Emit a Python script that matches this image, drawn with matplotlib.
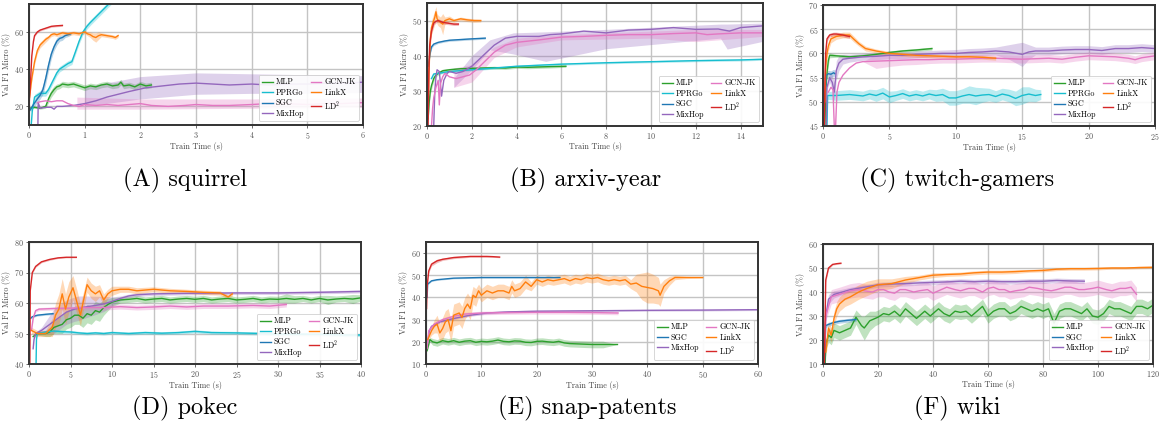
import matplotlib
matplotlib.use("Agg")
import matplotlib.pyplot as plt
import numpy as np

plt.rcParams['font.family'] = 'serif'
plt.rcParams['font.serif'] = ['cmr10', 'DejaVu Serif']
plt.rcParams['mathtext.fontset'] = 'cm'
plt.rcParams['axes.formatter.use_mathtext'] = True

# colours for each model
C_MLP, C_PPR, C_SGC, C_MIX = '#2ca02c', '#17becf', '#1f77b4', '#9467bd'
C_GCN, C_LNK, C_LD2 = '#e377c2', '#ff7f0e', '#d62728'

# ---- (A) squirrel: (time, mean, half-width of band) ----
sq_mlp = [(0.0,19,0.5),(0.1,19.5,0.5),(0.2,19,0.5),(0.3,20,1),(0.35,24,2),(0.4,27,2),(0.45,29,2),
          (0.5,30.5,1.5),(0.55,31,1.5),(0.6,32,1.5),(0.7,31.5,1.5),(0.8,32,1.5),(0.9,31,1.5),(1.0,30,1.5),
          (1.1,31,1.5),(1.2,30.5,1.5),(1.3,31.5,1.5),(1.4,32,1.5),(1.5,31,1.5),(1.6,31.5,1.5),(1.65,33,1.5),
          (1.7,31,1.5),(1.8,31.5,1.5),(1.9,30.5,1.5),(2.0,32,1.5),(2.1,31,1.5),(2.2,31.5,1.5)]
sq_pprgo = [(0.04,10,0),(0.06,18,1),(0.1,25,1.5),(0.15,26,1.5),(0.2,27,1.5),(0.25,27,1.5),(0.3,27,1.5),
            (0.35,29,1.5),(0.4,32,1.5),(0.45,35,1.5),(0.5,38,1.5),(0.55,40,1.5),(0.6,41,1.5),(0.7,43,1.5),
            (0.77,44,1.5),(0.83,49,1.5),(0.9,55,1.5),(0.97,60,1.5),(1.04,63,1.5),(1.1,65,1.5),(1.2,68,1.5),
            (1.3,71,1.5),(1.4,74,1.5),(1.5,77,1.5)]
sq_sgc = [(0.02,18,1),(0.08,21,1.5),(0.15,24,2),(0.2,26,2),(0.25,29,2.5),(0.3,35,3),(0.35,42,3),(0.4,48,2.5),
          (0.45,52,2),(0.5,55,2),(0.55,56.5,1.5),(0.6,57,1.5),(0.65,58,1),(0.7,58.5,1),(0.75,59,0.8)]
sq_mixhop = [(0.16,10,0),(0.165,22,0),(0.2,19,0),(0.3,19.5,0),(0.4,19.5,0),(0.45,18.5,0),(0.5,20,0),
             (0.6,20,0),(0.8,20.5,0),(1.0,21.5,0),(1.2,23,0),(1.4,25,0),(1.6,26.5,0),(1.8,28,0),(2.1,30,0),
             (2.4,31,0),(2.7,32,0),(3.0,32.5,0),(3.3,32,0),(3.6,31.5,0),(4.0,32,0),(4.3,31.5,0),(4.7,32,0),
             (5.0,32,0),(5.4,32.5,0),(5.7,32.5,0),(6.0,33,0)]
sq_mixhop_band = [(1.0,20,30.5),(2.0,24,36),(3.0,26.5,38),(4.0,27,37.5),(5.0,27,37),(6.0,27.5,36.5)]
sq_gcnjk = [(0.15,22,0),(0.2,22.5,0),(0.3,23,0),(0.4,22.5,0),(0.5,23,0),(0.6,23,0),(0.7,21.5,0),(0.8,20.5,0),
            (0.9,20,0),(1.0,21,0),(1.2,20.5,0),(1.4,21,0),(1.6,20.5,0),(1.8,21,0),(2.0,21.5,0),(2.2,20.5,0),
            (2.5,20,0),(2.8,20.5,0),(3.0,21,0),(3.3,20.5,0),(3.6,20.5,0),(4.0,21,0),(4.3,21.5,0),(4.6,21.5,0),
            (5.0,21,0),(5.3,21.5,0),(5.6,21.5,0),(6.0,22,0)]
sq_gcnjk_band = [(0.86,18.5,25),(2.0,18.5,24),(4.0,19,24),(6.0,19.5,24.5)]
sq_linkx = [(0.01,25,0),(0.03,30,1),(0.05,35,1.5),(0.1,44,1.5),(0.15,50,1.5),(0.2,53,1.5),(0.25,54.5,1.5),
            (0.3,56,1.5),(0.35,57,1),(0.4,58.5,1),(0.45,59,1),(0.5,58.5,1),(0.6,59.5,1),(0.7,59,1),(0.8,59.5,1),
            (0.9,59,1),(1.0,60,1),(1.05,59,1),(1.1,58.5,1.5),(1.15,57.5,2),(1.2,57,2.5),(1.25,58,2),(1.3,58.5,1),
            (1.4,58,1),(1.5,57.5,1),(1.55,57,1),(1.6,58,1)]
sq_ld2 = [(0.0,20,0),(0.03,35,0),(0.05,47,0.5),(0.08,55,0.5),(0.1,58,0.5),(0.15,60,0.5),(0.2,61,0.5),
          (0.3,62,0.5),(0.4,63,0.5),(0.5,63.3,0.5),(0.6,63.5,0.5)]

# ---- (B) arxiv-year ----
ax_mlp = [(0.05,22,0),(0.1,27,1),(0.15,30,1),(0.2,31.5,1),(0.3,33.5,0.8),(0.4,34.5,0.5),(0.5,35,0.5),
          (0.7,35.7,0.5),(1.0,36,0.4),(1.5,36.3,0.4),(2.0,36.4,0.4),(2.5,36.5,0.4),(3.0,36.6,0.4),(3.5,36.5,0.4),
          (4.0,36.8,0.4),(4.5,36.7,0.4),(5.0,36.8,0.4),(5.5,36.9,0.4),(6.2,37,0.3)]
ax_pprgo = [(0.2,33.5,0.3),(0.3,34.8,0.3),(0.5,35,0.3),(1.0,35.5,0.3),(2.0,36,0.3),(3.0,36.5,0.3),(4.0,37,0.3),
            (5.0,37.3,0.3),(6.0,37.6,0.3),(8.0,38,0.3),(10.0,38.3,0.3),(12.0,38.6,0.3),(14.0,38.8,0.3),(15.0,39,0.3)]
ax_sgc = [(0.05,37,0.5),(0.1,39,0.5),(0.15,41,0.5),(0.2,42.5,0.5),(0.3,43.3,0.4),(0.5,43.8,0.3),(0.8,44.2,0.3),
          (1.0,44.4,0.3),(1.5,44.6,0.3),(2.0,44.8,0.3),(2.6,45,0.3)]
ax_mixhop = [(0.3,20,0),(0.35,30,0),(0.4,34,0),(0.45,36,0),(0.55,35.5,0),(0.65,28.5,0),(0.75,33,0),(0.9,35,0),
             (1.0,35.5,0),(1.3,35,0),(1.6,35.5,0),(2.0,37,0),(2.5,40,0),(3.0,43,0),(3.5,45,0),(4.0,45.5,0),
             (5.0,45.5,0),(5.5,46,0),(6.0,46.2,0),(7.0,47,0),(8.0,46.5,0),(9.0,47.3,0),(10.0,47.5,0),(11.0,48,0),
             (12.0,47.5,0),(13.0,47.6,0),(13.5,47,0),(14.0,48,0),(15.0,48.5,0)]
ax_mixhop_band = [(1.2,31,33.6),(2.0,36,40),(2.8,41.7,44.5),(3.85,40.5,46.5),(5.3,38.4,46.8),(8.0,42,47.5),
                  (13.1,45,49),(13.4,41.9,49),(15.0,44.1,49.3)]
ax_gcnjk = [(0.2,20,0),(0.25,25,0),(0.3,28,0),(0.4,31,0),(0.5,33,0),(0.55,26,0),(0.6,32,0),(0.7,34,0),(0.8,35,0),
            (1.0,34,0),(1.3,33.5,0),(1.6,34,0),(1.9,34.5,0),(2.2,36,0),(2.6,38.5,0),(3.0,41,0),(3.5,43,0),
            (4.0,43.8,0),(5.0,44.5,0),(6.0,45.3,0),(7.0,45.5,0),(8.0,45.8,0),(9.0,46,0),(10.0,46,0),(11.0,46.3,0),
            (12.0,46.5,0),(12.5,46,0),(13.0,46.2,0),(14.0,46.5,0),(15.0,46.5,0)]
ax_gcnjk_band = [(1.2,31,36.5),(2.0,32.5,37.5),(3.0,39.5,42.5),(4.0,42.5,45),(6.0,44.5,46),(10.0,45,47),
                 (12.0,44,47.5),(15.0,45.5,47.5)]
ax_linkx = [(0.05,25,1),(0.1,38,2),(0.15,45,2),(0.2,48,2),(0.3,50,2),(0.35,51,2),(0.4,52.5,1.5),(0.45,50.5,1.5),
            (0.5,50,1.5),(0.6,49.5,1.5),(0.7,49,3),(0.8,50,1),(1.0,50.5,0.8),(1.2,50,0.5),(1.5,50.5,0.5),
            (1.8,50.2,0.5),(2.1,50,0.5),(2.4,50,0.4)]
ax_ld2 = [(0.05,20,0),(0.08,35,1),(0.12,43,1),(0.2,47,0.8),(0.3,49.3,0.5),(0.4,49.8,0.5),(0.5,50,0.5),
          (0.7,49.5,0.5),(1.0,49.2,0.4),(1.2,49,0.4),(1.4,49,0.4)]

# ---- (C) twitch-gamers ----
tw_mlp = [(0.15,45,0),(0.2,52,1),(0.3,56,1),(0.4,58.5,1),(0.5,59.6,0.5),(1.0,59.5,0.3),(2.0,59.3,0.3),
          (3.0,59.5,0.3),(4.0,59.8,0.3),(5.0,60.2,0.3),(6.0,60.5,0.3),(7.0,60.7,0.3),(8.2,61,0.3)]
tw_pprgo = [(0.3,45,0),(0.35,51.3,0.8),(1,51.3,1),(2,51.5,1),(3,51.2,1),(3.5,51.6,1),(4,51.3,1.2),(4.5,51.8,1.2),
            (5,51,1.2),(5.5,51.3,1),(6,51.7,1),(6.5,51.2,1),(7,51.5,1),(7.5,51.2,1),(8,51.6,1),(8.5,51.3,1.2),
            (9,51.5,1.3),(9.5,50.8,1.5),(10,50.8,1.5),(10.5,51.2,1.5),(11,51.5,1.8),(11.5,51.2,1.8),(12,51.4,1.5),
            (12.5,51.5,1.3),(13,51.1,1.2),(13.5,51.6,1.2),(14,51.3,1.3),(14.5,50.7,1.5),(15,51.3,1.8),
            (15.5,51.6,1.5),(16,51.3,1.3),(16.4,51.5,1)]
tw_sgc = [(0.15,50,0.5),(0.25,55.5,0.7),(0.4,55.8,0.7),(0.6,55.7,0.7),(0.8,56,0.7),(0.9,55.8,0.7)]
tw_mixhop = [(0.25,45,0),(0.3,53,0.5),(0.5,55,1),(0.7,54,1.5),(0.85,52,2),(1.0,56.5,2),(1.2,58,1.5),(1.5,58.8,1),
             (2,59,0.8),(3,59.3,0.7),(4,59.4,0.7),(5,59.6,0.7),(6,59.6,0.7),(7,59.8,0.7),(8,59.9,0.7),(9,60,0.7),
             (10,60,0.8),(11,60.2,0.8),(12,60.3,0.8),(13,60.5,0.8),(14,60.3,1.5),(15,59.8,2.5),(15.5,60.3,1.5),
             (16,60.5,0.8),(17,60.5,0.8),(18,60.7,0.8),(19,60.8,0.8),(20,60.8,0.8),(21,60.6,0.8),(22,61,0.8),
             (23,61,0.8),(24,61.2,0.8),(25,61,0.8)]
tw_gcnjk = [(0.4,52,0),(0.6,53,0),(0.75,52.5,0),(0.85,45,0),(0.95,45,0),(1.05,52,0),(1.2,54,0),(1.5,55.5,0),
            (2.0,57,0),(2.5,58,0),(3,58.3,0),(4,58.4,1.5),(5,58.5,1.2),(6,58.6,1),(7,58.7,1),(8,58.7,0.8),
            (9,58.8,0.8),(10,58.8,0.8),(11,58.9,0.8),(12,59,0.8),(13,59,0.8),(14,58.9,0.8),(15,58.8,0.8),
            (16,58.9,0.8),(17,59,0.8),(18,58.8,0.8),(19,59.2,0.8),(20,59.5,0.8),(21,59.4,0.8),(22,59.3,0.8),
            (23,59,0.8),(23.5,58.7,0.8),(24,59.1,0.8),(25,59.5,0.8)]
tw_linkx = [(0.15,50,0),(0.2,57,1),(0.3,60,1),(0.4,61.5,1),(0.6,63,0.8),(1.0,63.5,0.6),(1.5,63.8,0.6),
            (2.0,63.8,0.6),(2.3,63,0.6),(2.7,62,0.5),(3.2,61,0.5),(4.0,60.5,0.4),(5.0,60,0.4),(6.0,59.8,0.4),
            (7,59.6,0.4),(8,59.5,0.4),(9,59.4,0.4),(10,59.3,0.4),(11,59.3,0.4),(12,59.2,0.4),(13,59,0.4)]
tw_ld2 = [(0.1,45,0),(0.15,55,0),(0.2,60,0.5),(0.3,63,0.5),(0.5,63.8,0.4),(0.8,64,0.4),(1.0,64,0.4),
          (1.5,63.8,0.4),(1.8,63.6,0.4),(2.0,63.5,0.4)]

# ---- (D) pokec ----
pk_mlp = [(0.5,49,0.5),(1,50,0.5),(2,50,1),(2.5,50.5,1.5),(3,52,2),(3.5,52.5,2.5),(4,53,3),(4.5,54.5,3),(5,55,3),
          (5.5,56,3),(6,56,3),(6.5,55,3),(7,56.5,3),(7.5,56,3),(8,57.5,3),(8.5,57,3),(9,58.5,2.5),(9.5,59.5,2),
          (10,60.3,1.5),(11,61,1),(12,61.2,1),(13,61.5,1),(14,61,1),(15,61.3,1),(16,61.5,1),(17,61,1),
          (18,61.3,1),(19,61.5,1),(20,61.2,1),(21,61.5,1),(22,61,1),(23,61.3,1),(24,61.5,1),(25,61,1),
          (26,61.2,1),(27,61.5,1),(28,61,1),(29,61.3,1),(30,61.2,1),(31,61.5,1.5),(32,61.2,1.2),(33,61.5,1),
          (34,61,1),(35,61.5,1),(36,61,1.5),(37,61.3,1),(38,61.5,1),(39,61.3,1.5),(40,61.7,1)]
pk_pprgo = [(0.85,40,0),(0.9,48,0),(1.0,50,0.5),(2,50.5,0.5),(3,50.8,0.5),(4,50.6,0.5),(5,50.5,0.5),(6,50.2,0.5),
            (7,50,0.5),(8,50.2,0.5),(9,50,0.5),(10,50.3,0.5),(12,50,0.5),(14,50.3,0.5),(16,50.1,0.5),
            (18,50.3,0.5),(20,50.7,0.5),(22,50.3,0.5),(25,50.2,0.5),(28,50,0.5),(30,49.8,0.5),(33,49.8,0.5),
            (36,49.7,0.5),(38,49.5,0.5),(40,49.5,0.5)]
pk_sgc = [(0.2,55,0.3),(0.4,55.5,0.3),(1,56,0.3),(2,56.3,0.3),(2.9,56.5,0.3)]
pk_mixhop = [(0.5,45,0),(0.6,48,0.5),(0.8,50,0.5),(1.5,51,1),(2,52,2),(2.5,53,3),(3,54,4),(3.5,55,4),(4,56,4),
             (4.5,57,4),(5,57.5,4),(5.5,58,4),(6,58.3,4),(7,58.8,3.5),(8,59.2,3),(9,59.7,2.5),(10,60.5,1.5),
             (11,61.5,0.8),(12,62.3,0.6),(13,62.7,0.6),(15,63,0.5),(20,63.2,0.5),(25,63.3,0.5),(30,63.3,0.5),
             (35,63.5,0.5),(40,63.8,0.5)]
pk_gcnjk = [(0.3,51,0),(0.5,55,0.5),(0.8,57.5,0.5),(1.2,58,0.5),(3,58.2,0.5),(5,58.3,0.5),(7,58.5,0.8),
            (9,58.5,0.8),(11,58.8,0.8),(13,58.5,0.8),(15,58.7,0.8),(17,59,0.8),(19,58.7,0.8),(21,59,0.8),
            (24,59,0.8),(27,59.2,0.8),(29,59,0.8),(31,59.5,0.8)]
pk_linkx = [(0.3,51,1),(1,50,1),(2,50,1),(2.8,52,3),(3.2,56,4),(3.6,58,5),(4,63,5),(4.4,58,5),(4.8,62,5),
            (5.3,65,4),(5.8,60,4),(6.2,56,3.5),(6.5,60,3),(7,66,2.5),(7.5,64,2.5),(8,63,2.5),(8.5,64,2),(9,61,2),
            (9.5,63,1.5),(10,64,1.5),(11,64.5,1),(12,64.5,1),(13,64,1),(15,64.5,0.8),(17,64,0.8),(19,63.8,0.7),
            (21,63.5,0.7),(23,63.3,0.7),(24,62,0.7),(24.5,63,0.7)]
pk_ld2 = [(0.1,40,0),(0.15,64,0),(0.4,70,0.3),(0.8,72,0.3),(1.5,73.5,0.3),(2.5,74.3,0.3),(3.5,74.8,0.2),
          (4.5,75,0.2),(5.7,75,0.2)]

# ---- (E) snap-patents ----
sp_mlp = [(0.2,16,0),(0.7,21,1),(1.2,20,1.5),(2,19.5,1.5),(3,20.5,1.5),(4,20,1.5),(5,20.5,1.5),(6,19.8,1.5),
          (7,20.3,1.5),(8,20.5,1.5),(9,19.8,1.5),(10,20.2,1.5),(11,20,1.5),(12,20.3,1.5),(13,20.8,1.5),
          (14,20.2,1.5),(15,20,1.5),(16,20.4,1.5),(17,20.3,1.5),(18,19.8,1.5),(19,19.7,1.5),(20,20.2,1.5),
          (21,20.3,1.5),(22,20,1.5),(23,19.8,1.5),(24,20.2,1.5),(25,19.5,1.5),(26,19.2,1.5),(28,19,1.5),
          (30,18.8,1.5),(32,18.8,1.5),(34.6,18.8,0)]
sp_sgc = [(0.2,40,0),(0.3,46,0.3),(1,47.5,0.3),(2,48,0.3),(5,48.7,0.3),(10,49,0.3),(15,49,0.3),(20,49,0.3),
          (24.2,49,0.3)]
sp_mixhop = [(0.3,20,0.5),(0.6,25,0.5),(1,27,0.5),(2.5,29,0.5),(5,30.5,0.5),(8,32,0.5),(11,33,0.5),(15,33.5,0.5),
             (20,33.8,0.5),(30,34,0.4),(40,34.2,0.4),(50,34.3,0.4),(60,34.5,0.4)]
sp_gcnjk = [(0.2,17,0.5),(0.5,25,0.8),(1.5,28,0.8),(3,30,0.8),(5,31.5,0.8),(7,32.5,0.8),(10,33,0.8),(15,33.2,0.8),
            (20,33.3,0.8),(25,33.3,0.8),(30,33.2,0.8),(34.7,33,0.8)]
sp_linkx = [(0.3,21,1),(1,25,2),(1.5,27,3),(2,28,4),(2.5,24,4),(3,26,5),(3.5,29,5),(4,30,5),(4.5,25,5),(5,32,5),
            (6,33,5),(6.5,31,5),(7,35,5),(7.5,37,5),(8,35,5),(8.5,41,4),(9,40,4),(9.5,43,3),(10,41,3),(10.5,42,3),
            (11,43,3),(12,42,3),(13,43,3),(14,43,3),(15,42,3),(15.5,45,3),(16,43,3),(17,44,3),(18,47,3),(19,45,2),
            (20,48,2),(21,47,2),(22,48,2),(23,47.5,2),(24,48,2),(25,48.5,2),(26,47.5,2),(27,48.5,2),(28,48,2),
            (29,49,2),(30,48.5,2),(31,49,2),(32,48,2),(33,47.5,2),(34,48,2),(35,47.5,2),(36,48,2),(37,46,2),
            (38,46.5,4),(39,45,6),(40,44.5,7),(41,44,6.5),(42,43,6),(42.3,41,5),(43,45,3),(44,47.5,2),(45,49,1),
            (47,49,0.5),(50,49,0.3)]
sp_ld2 = [(0.1,35,0),(0.2,45,0.5),(0.5,52,0.8),(1,55,0.8),(2,56.5,0.8),(3,57.2,0.5),(5,58,0.5),(8,58.5,0.4),
          (11,58.5,0.4),(12,58.4,0.3),(13.3,58.2,0.3)]

# ---- (F) wiki ----
wk_mlp = [(0.8,10,0),(1,18,2),(2,22,3),(3,21,3),(4,24,3),(6,23,3),(8,24,3),(10,25,3),(12,29.5,3),(14,26,4),
          (15,25,5),(17,28,4),(19,29,3),(20,29.5,3),(22,31,3),(24,30.5,3),(26,32,3),(28,30,3),(30,33,3),(32,31,3),
          (34,29,3),(35,30,3),(37,32,3),(39,30,3),(42,33,3),(44,31,3),(46,30,3),(48,32,3),(50,31.5,3),(52,32,3),
          (54,30,3),(56,32,3),(58,34,3),(60,30,3),(62,32,3),(64,33,3),(66,33,3),(68,31,3),(70,32,3),(72,34,3),
          (74,33,3),(76,32,3),(78,33,3),(80,32,3),(82,33,3),(84,27,4),(86,32,3),(88,33,3),(90,33,3),(92,32,3),
          (94,31,3),(96,33,3),(98,30,3),(100,29.5,3),(102,31,3),(104,34,3),(106,33,3),(108,33,3),(110,32,3),
          (112,31,3),(114,34,3),(116,34,3),(118,33,3),(120,34.5,3)]
wk_sgc = [(0.5,10,0),(1,26,0.8),(2,26.5,0.8),(4,27.3,0.8),(6,27.8,0.8),(9,28.2,0.8),(12,28.5,0.8)]
wk_mixhop = [(0.5,15,0),(1,30,2),(2,37,2),(4,39,1.5),(7,40,1.2),(10,41,1),(15,42,1),(20,43,1),(25,43.3,1),
             (30,43.5,1),(35,43.8,1),(40,44,1),(45,44.2,1),(50,44.5,1),(55,44.3,1),(60,44.5,1),(65,44.3,1),
             (70,44.3,1),(75,44.5,1),(80,44.5,1),(85,44.8,1),(90,44.6,1),(95,44.5,1)]
wk_gcnjk = [(0.5,15,0),(1,30,2),(3,38,3),(6,39,3),(10,40.5,3),(13,41,3),(15,40.5,3),(18,40,3),(20,41,3),(22,41,3),
            (24,40,3),(26,39.5,3),(28,41,3),(30,41,3),(33,40,3),(35,40.5,3),(38,41,3),(40,39.5,3),(43,41,3),
            (45,42,3),(48,41,3),(50,40.5,3),(53,41.5,3),(55,41.5,3),(58,40,3),(60,41.5,3),(62,42,3),(64,41,3),
            (66,41,3),(68,40,3),(70,40.5,3),(73,41,3),(75,42,3),(78,41.5,3),(80,41,3),(83,40.5,3),(85,41,3),
            (88,42,3),(90,42,3),(93,41,3),(95,41,3),(98,41.5,3),(100,42,3),(103,41,3),(105,40.5,3),(108,41.5,3),
            (110,41.5,3),(112,42,3),(114,39,3)]
wk_linkx = [(1,15,2),(1.5,20,3),(2,25,3),(3,22,3),(4,29,3),(5,33,3),(6,35,3),(8,37,3),(10,38,3),(13,40,3),
            (16,41.5,3),(20,43,2.5),(25,43.5,2),(30,45,1.5),(35,46,1),(40,47,1),(45,47.3,0.8),(50,47.5,0.8),
            (55,48,0.8),(60,48.3,0.8),(65,48.3,0.8),(70,48.5,0.8),(75,48.8,0.6),(80,49,0.6),(85,49.5,0.6),
            (90,49.7,0.6),(95,49.7,0.6),(100,49.8,0.6),(105,50,0.5),(110,50,0.5),(115,50.2,0.5),(120,50.3,0.5)]
wk_ld2 = [(0.5,10,0),(1,45,1),(2,50,0.5),(3.5,51.5,0.3),(5,51.8,0.3),(6.5,52,0.3)]

captions = ['(A) squirrel', '(B) arxiv-year', '(C) twitch-gamers',
            '(D) pokec', '(E) snap-patents', '(F) wiki']

W, H = 1159, 437
fig = plt.figure(figsize=(W / 100, H / 100), dpi=100)


def make_ax(l, t, r, b):
    ax = fig.add_axes([l / W, 1 - b / H, (r - l) / W, (b - t) / H])
    ax.grid(True, color='#c4c4c4', lw=1.0)
    ax.set_axisbelow(True)
    for s in ax.spines.values():
        s.set_linewidth(1.4)
        s.set_color('#333333')
    ax.tick_params(labelsize=5.8, colors='#555555', length=2, width=0.6, pad=1.5)
    ax.set_xlabel('Train Time (s)', fontsize=5.8, color='#444444', labelpad=0.5)
    ax.set_ylabel('Val F1 Micro (%)', fontsize=5.8, color='#444444', labelpad=2.5)
    return ax


def draw(ax, data, color, label, band=None):
    a = np.array(data, dtype=float)
    t, y, e = a[:, 0], a[:, 1], a[:, 2]
    if e.any():
        ax.fill_between(t, y - e, y + e, color=color, alpha=0.3, lw=0)
    if band is not None:
        b = np.array(band, dtype=float)
        ax.fill_between(b[:, 0], b[:, 1], b[:, 2], color=color, alpha=0.3, lw=0)
    ax.plot(t, y, color=color, lw=1.0, label=label)


def finish(ax, xlim, ylim, xticks, yticks):
    ax.set_xlim(*xlim)
    ax.set_ylim(*ylim)
    ax.set_xticks(xticks)
    ax.set_yticks(yticks)
    leg = ax.legend(ncol=2, loc='lower right', fontsize=5.8, handlelength=1.3, columnspacing=0.8,
                    labelspacing=0.25, borderpad=0.4, handletextpad=0.4, framealpha=0.9, fancybox=True)
    leg.get_frame().set_edgecolor('#cccccc')
    leg.get_frame().set_linewidth(0.6)


# (A)
a1 = make_ax(29, 4, 363, 125)
draw(a1, sq_mlp, C_MLP, 'MLP')
draw(a1, sq_pprgo, C_PPR, 'PPRGo')
draw(a1, sq_sgc, C_SGC, 'SGC')
draw(a1, sq_mixhop, C_MIX, 'MixHop', sq_mixhop_band)
draw(a1, sq_gcnjk, C_GCN, 'GCN-JK', sq_gcnjk_band)
draw(a1, sq_linkx, C_LNK, 'LinkX')
draw(a1, sq_ld2, C_LD2, 'LD$^2$')
finish(a1, (0, 6), (10, 75), range(0, 7), [20, 40, 60])

# (B)
a2 = make_ax(427, 3, 763, 126)
draw(a2, ax_mlp, C_MLP, 'MLP')
draw(a2, ax_pprgo, C_PPR, 'PPRGo')
draw(a2, ax_sgc, C_SGC, 'SGC')
draw(a2, ax_mixhop, C_MIX, 'MixHop', ax_mixhop_band)
draw(a2, ax_gcnjk, C_GCN, 'GCN-JK', ax_gcnjk_band)
draw(a2, ax_linkx, C_LNK, 'LinkX')
draw(a2, ax_ld2, C_LD2, 'LD$^2$')
finish(a2, (0, 15), (20, 55), range(0, 15, 2), [20, 30, 40, 50])

# (C)
a3 = make_ax(823, 5, 1155, 126)
draw(a3, tw_mlp, C_MLP, 'MLP')
draw(a3, tw_pprgo, C_PPR, 'PPRGo')
draw(a3, tw_sgc, C_SGC, 'SGC')
draw(a3, tw_mixhop, C_MIX, 'MixHop')
draw(a3, tw_gcnjk, C_GCN, 'GCN-JK')
draw(a3, tw_linkx, C_LNK, 'LinkX')
draw(a3, tw_ld2, C_LD2, 'LD$^2$')
finish(a3, (0, 25), (45, 70), range(0, 26, 5), range(45, 71, 5))

# (D)
a4 = make_ax(29, 242, 361, 364)
draw(a4, pk_mlp, C_MLP, 'MLP')
draw(a4, pk_pprgo, C_PPR, 'PPRGo')
draw(a4, pk_sgc, C_SGC, 'SGC')
draw(a4, pk_mixhop, C_MIX, 'MixHop')
draw(a4, pk_gcnjk, C_GCN, 'GCN-JK')
draw(a4, pk_linkx, C_LNK, 'LinkX')
draw(a4, pk_ld2, C_LD2, 'LD$^2$')
finish(a4, (0, 40), (40, 80), range(0, 41, 5), range(40, 81, 10))

# (E)
a5 = make_ax(426, 242, 758, 364)
draw(a5, sp_mlp, C_MLP, 'MLP')
draw(a5, sp_sgc, C_SGC, 'SGC')
draw(a5, sp_mixhop, C_MIX, 'MixHop')
draw(a5, sp_gcnjk, C_GCN, 'GCN-JK')
draw(a5, sp_linkx, C_LNK, 'LinkX')
draw(a5, sp_ld2, C_LD2, 'LD$^2$')
finish(a5, (0, 60), (10, 65), range(0, 61, 10), range(10, 61, 10))

# (F)
a6 = make_ax(823, 244, 1153, 364)
draw(a6, wk_mlp, C_MLP, 'MLP')
draw(a6, wk_sgc, C_SGC, 'SGC')
draw(a6, wk_mixhop, C_MIX, 'MixHop')
draw(a6, wk_gcnjk, C_GCN, 'GCN-JK')
draw(a6, wk_linkx, C_LNK, 'LinkX')
draw(a6, wk_ld2, C_LD2, 'LD$^2$')
finish(a6, (0, 120), (10, 60), range(0, 121, 20), range(10, 61, 10))

# sub-figure captions
cap_x = [185, 586, 957, 185, 587, 957]
cap_y = [180, 180, 180, 408, 408, 408]
for cx, cy, txt in zip(cap_x, cap_y, captions):
    fig.text(cx / W, 1 - cy / H, txt, ha='center', va='center', fontsize=17.5)

fig.savefig('out.png', dpi=100)
